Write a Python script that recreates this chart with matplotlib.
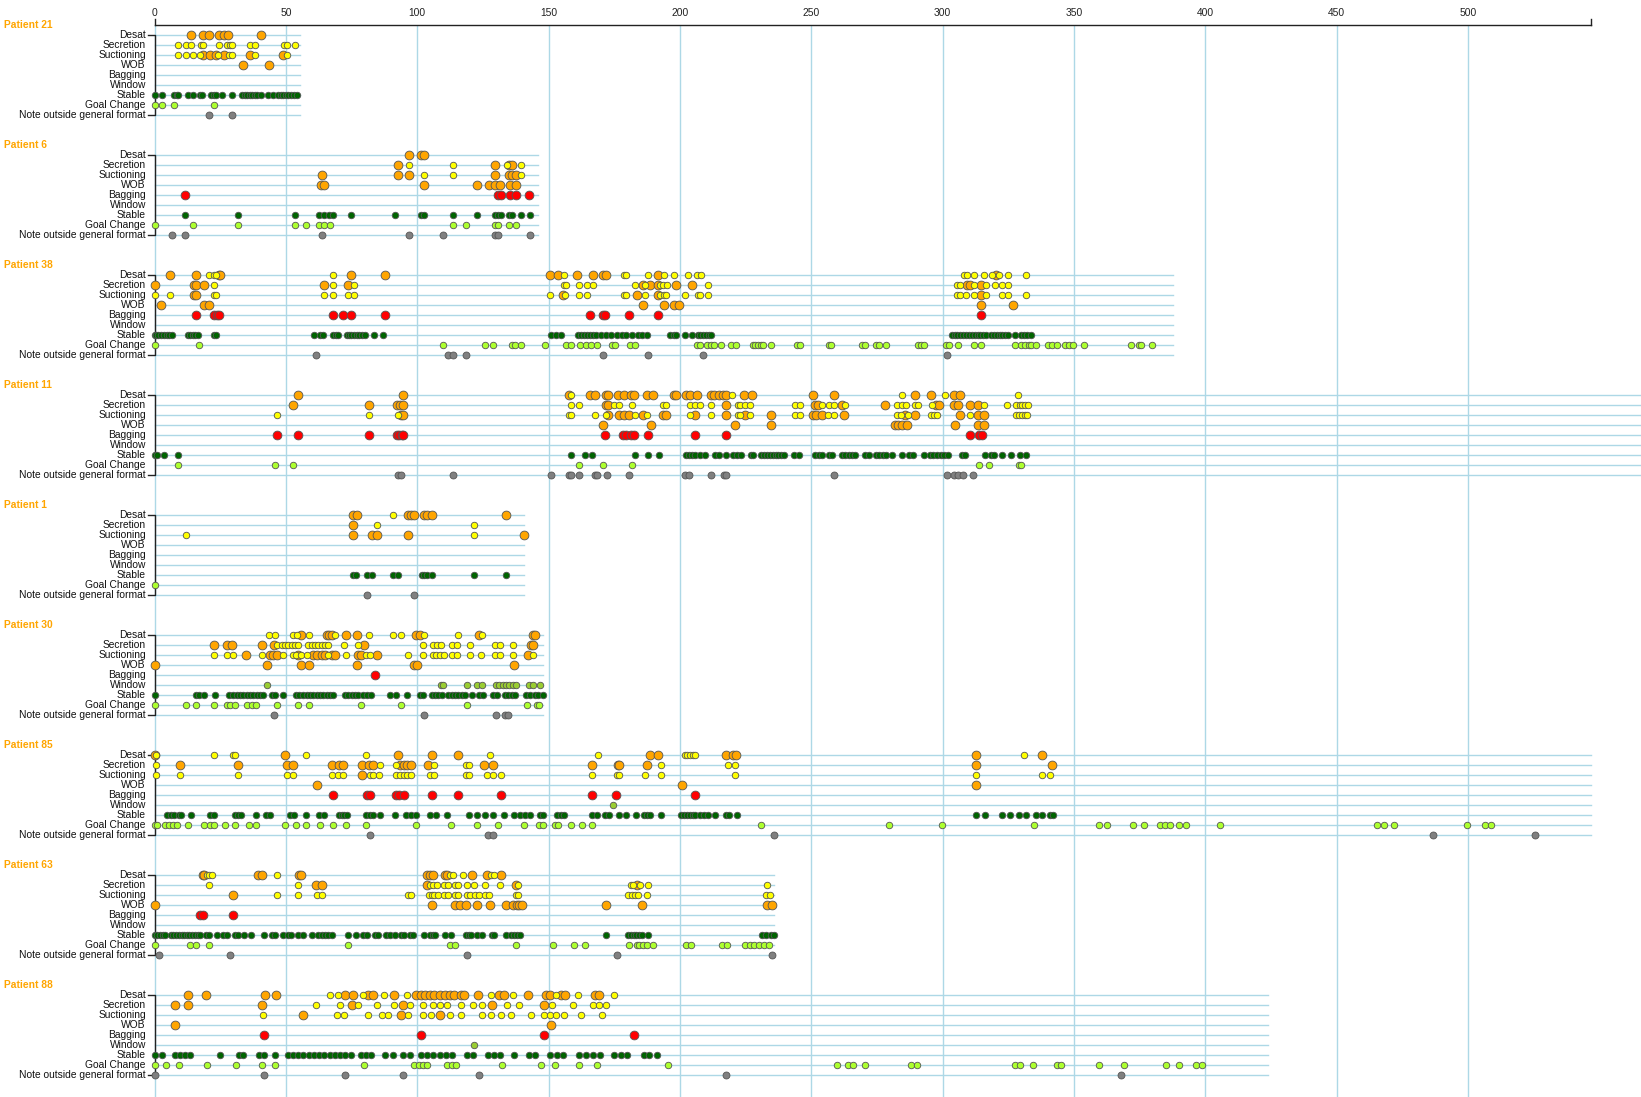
import matplotlib
matplotlib.use("Agg")
import matplotlib.pyplot as plt

plt.rcParams['font.family'] = ['Liberation Sans', 'DejaVu Sans']

# categories (rows of each patient block)
rows = ["Desat", "Secretion", "Suctioning", "WOB", "Bagging", "Window",
        "Stable", "Goal Change", "Note outside general format"]
patients = ["Patient 21", "Patient 6", "Patient 38", "Patient 11", "Patient 1",
            "Patient 30", "Patient 85", "Patient 63", "Patient 88"]
# length of each patient's record (time units)
record_end = [55.4, 145.8, 387.7, 600, 140.8, 148, 546.8, 236, 423.7]
axis_end = 546.8
ticks = [0, 50, 100, 150, 200, 250, 300, 350, 400, 450, 500]

# ---- Patient 21
p21 = {
    "Desat": [13.8, 18.6, 20.7, 24.5, 26.4, 27.8, 40.7],
    "Suctioning": [18.3, 21.1, 23.4, 26.5, 36.4, 49.1],
    "WOB": [33.7, 43.5],
    "Stable": [0, 3.0, 7.5, 8.5, 8.9, 12.7, 14.8, 17.3, 18.1, 21.6, 22.6, 23.6, 25.6, 29.6,
               33.4, 34.3, 35.2, 36.2, 37.2, 38.2, 39.2, 40.6, 43.1, 45.2, 47.2, 48.1, 49.0,
               50.0, 51.0, 52.0, 53.0, 54.4],
    "Goal Change": [0, 3.0, 7.5, 22.7],
    "Note outside general format": [20.7, 29.6],
}
p21_mild = {
    "Secretion": [8.9, 11.9, 13.8, 17.7, 18.6, 24.6, 27.6, 28.6, 29.6, 36.4, 38.4, 49.4, 50.3, 53.3],
    "Suctioning": [8.9, 11.9, 14.6, 17.3, 24.2, 28.4, 29.6, 38.4, 50.3],
}

# ---- Patient 6
p6 = {
    "Desat": [96.7, 101.6, 102.7],
    "Secretion": [92.8, 129.6, 134.9, 135.9],
    "Suctioning": [63.8, 92.8, 96.8, 129.6, 134.9, 135.9, 137.6],
    "WOB": [63.5, 64.6, 102.7, 122.7, 127.4, 129.5, 131.5, 135.3, 137.6],
    "Bagging": [11.6, 130.8, 131.8, 135.3, 137.6, 142.6],
    "Stable": [11.6, 31.7, 53.6, 62.8, 64.6, 66.5, 67.9, 74.7, 91.7, 101.6, 102.7, 113.8,
               122.7, 129.6, 130.7, 131.8, 134.9, 136.0, 139.7, 142.8],
    "Goal Change": [0, 14.7, 31.7, 53.6, 57.7, 62.6, 64.6, 66.7, 113.8, 118.6, 129.5, 130.8,
                    134.9, 137.6],
    "Note outside general format": [6.7, 11.6, 63.8, 96.8, 109.8, 129.5, 130.6, 142.8],
}
p6_mild = {
    "Secretion": [96.8, 113.8, 134.2, 139.7],
    "Suctioning": [102.7, 113.8, 139.7],
}

# ---- Patient 38
p38 = {
    "Desat": [5.8, 15.8, 24.4, 25.1, 74.8, 87.7, 150.5, 153.7, 160.7, 166.9, 170.8, 171.7,
              191.6, 320.5],
    "Secretion": [0, 14.9, 15.8, 18.7, 64.6, 73.6, 185.9, 188.6, 191.6, 198.7, 204.5,
                  309.3, 310.4, 314.6],
    "Suctioning": [14.9, 15.8, 155.6, 183.5, 191.6, 314.6],
    "WOB": [2.6, 18.7, 20.7, 185.9, 193.8, 197.8, 199.8, 314.7, 326.7],
    "Bagging": [15.8, 22.6, 23.7, 24.7, 67.8, 71.7, 74.8, 87.7, 165.8, 170.8, 171.6, 180.7,
                191.7, 314.7],
    "Stable": [0, 0.6, 1.5, 2.6, 3.7, 4.7, 5.6, 6.7, 12.6, 13.5, 14.6, 15.6, 16.5, 22.6, 23.6,
               60.7, 63.1, 64.1, 67.9, 69.0, 69.9, 73.1, 74.0, 74.9, 76.0, 77.0, 77.9, 79.0,
               80.1, 83.7, 86.9, 150.8, 152.8, 154.6, 161.4, 162.5, 163.6, 164.7, 165.8, 166.9,
               167.9, 169.8, 171.9, 173.9, 175.9, 178.0, 179.4, 181.8, 184.1, 185.5, 187.5,
               196.4, 197.7, 198.7, 201.8, 204.5, 206.8, 207.6, 208.7, 209.8, 210.9, 212.0,
               303.5, 304.6, 305.6, 306.7, 307.8, 308.9, 310.0, 311.1, 312.2, 313.3, 314.4,
               315.4, 316.5, 318.4, 319.5, 320.6, 321.7, 322.8, 323.9, 325.0, 327.5, 330.0,
               331.1, 332.1, 333.5],
    "Goal Change": [0, 16.9, 109.8, 125.7, 128.8, 135.9, 137.2, 139.7, 148.5, 156.5, 158.7,
                    162.0, 164.1, 166.0, 168.5, 174.2, 175.3, 181.0, 182.8, 206.5, 207.6,
                    210.4, 211.7, 213.1, 215.5, 219.6, 221.2, 227.8, 228.7, 229.8, 230.8,
                    231.8, 234.8, 244.6, 245.7, 256.9, 257.7, 269.5, 270.5, 274.5, 275.6,
                    278.6, 290.8, 291.9, 293.0, 301.4, 302.5, 305.8, 311.8, 314.8, 327.5,
                    329.7, 331.3, 332.7, 333.8, 335.7, 340.2, 341.6, 343.6, 346.6, 348.0,
                    349.7, 353.8, 371.7, 374.6, 375.7, 379.7],
    "Note outside general format": [61.6, 111.7, 113.7, 118.6, 170.8, 187.7, 208.7, 301.7],
}
p38_mild = {
    "Desat": [20.7, 22.6, 23.6, 67.8, 155.8, 178.8, 179.6, 187.7, 193.8, 197.8, 203.0, 206.5,
              208.0, 308.2, 309.3, 311.8, 315.9, 318.9, 321.6, 324.8, 331.6],
    "Secretion": [22.6, 67.8, 75.8, 155.8, 156.7, 161.7, 164.8, 166.9, 182.8, 186.6, 192.3,
                  193.6, 194.9, 210.8, 305.5, 306.6, 311.8, 316.7, 319.8, 322.7, 324.8],
    "Suctioning": [0, 5.8, 22.6, 23.4, 64.6, 67.8, 73.6, 75.8, 150.5, 156.2, 161.7, 164.8,
                   178.8, 179.6, 186.6, 192.3, 193.8, 194.6, 201.8, 206.8, 207.8, 210.8,
                   305.5, 306.6, 308.8, 311.8, 316.4, 322.7, 324.8, 331.6],
}

# ---- Patient 11
p11 = {
    "Desat": [54.8, 94.7, 157.6, 165.8, 167.6, 171.9, 172.6, 176.6, 178.7, 181.4, 182.4,
              187.5, 189.6, 197.7, 198.6, 202.5, 203.8, 206.6, 211.7, 212.9, 214.7, 216.3,
              217.7, 224.5, 227.6, 250.8, 258.6, 289.5, 295.6, 304.5, 306.5],
    "Secretion": [52.9, 81.7, 92.5, 93.5, 94.7, 171.9, 172.6, 217.7, 251.4, 252.5, 261.6,
                  277.9, 297.6, 298.7, 304.5, 305.8, 310.5, 313.6],
    "Suctioning": [93.7, 94.7, 172.6, 176.7, 178.7, 180.7, 185.9, 193.6, 194.6, 205.6, 217.7,
                   224.6, 234.8, 250.8, 251.7, 254.2, 262.6, 285.8, 289.5, 306.5, 313.3, 315.7],
    "WOB": [170.9, 188.9, 220.8, 234.8, 281.7, 282.9, 284.4, 286.5, 304.7, 313.6, 315.7],
    "Bagging": [46.8, 54.8, 81.7, 92.5, 93.2, 94.1, 94.7, 171.6, 178.4, 179.6, 181.4, 182.4,
                187.7, 205.6, 217.7, 310.5, 313.9, 314.9],
    "Stable": [0, 0.8, 3.6, 8.8, 158.7, 163.7, 166.7, 182.8, 187.8, 191.9, 202.5, 203.6, 204.7,
               205.8, 207.6, 209.7, 213.3, 214.7, 217.4, 220.1, 221.9, 223.3, 226.9, 228.0,
               231.0, 232.1, 233.2, 234.2, 235.3, 236.4, 237.5, 238.6, 239.7, 243.3, 245.3,
               251.4, 252.8, 254.1, 256.6, 257.9, 261.6, 263.0, 264.3, 265.7, 266.8, 270.4,
               271.8, 274.5, 275.9, 277.2, 278.6, 280.6, 284.7, 287.4, 288.8, 292.8, 295.2,
               296.5, 297.9, 299.3, 300.6, 302.0, 307.2, 308.5, 316.0, 318.3, 319.6, 322.8,
               325.9, 329.6, 331.9],
    "Goal Change": [8.8, 45.8, 52.7, 161.7, 170.9, 181.7, 314.0, 317.8, 329.1, 329.9],
    "Note outside general format": [92.6, 93.7, 113.8, 150.8, 157.6, 158.7, 161.7, 167.8,
                                    168.5, 172.2, 180.7, 201.8, 203.6, 211.7, 216.7, 217.7,
                                    258.6, 301.8, 304.5, 305.8, 307.6, 311.6],
}
p11_mild = {
    "Desat": [158.7, 219.7, 284.7, 300.8, 328.8],
    "Secretion": [158.7, 161.7, 174.9, 176.7, 181.7, 193.6, 194.6, 203.8, 205.6, 207.6, 211.7,
                  222.0, 223.0, 224.6, 226.7, 243.7, 245.7, 254.2, 256.6, 258.6, 262.7, 282.7,
                  284.7, 286.1, 289.5, 290.8, 295.9, 315.6, 324.5, 328.1, 329.3, 330.3, 331.5,
                  332.4],
    "Suctioning": [46.8, 81.7, 92.8, 157.6, 158.7, 167.8, 171.9, 182.8, 187.5, 203.8, 211.7,
                   222.0, 223.0, 226.7, 243.7, 245.7, 256.2, 258.6, 282.7, 284.0, 286.7, 295.6,
                   296.7, 297.9, 310.5, 328.1, 329.1, 330.1, 331.2, 332.3],
}

# ---- Patient 1
p1 = {
    "Desat": [75.7, 77.0, 96.6, 97.5, 98.8, 102.6, 103.9, 105.8, 133.8],
    "Secretion": [75.7],
    "Suctioning": [75.7, 82.7, 84.8, 96.6, 140.8],
    "Stable": [75.7, 76.7, 80.8, 82.7, 90.7, 92.8, 101.7, 102.7, 103.9, 105.8, 121.8, 133.8],
    "Goal Change": [0],
    "Note outside general format": [80.8, 98.8],
}
p1_mild = {
    "Desat": [90.7],
    "Secretion": [84.7, 121.8],
    "Suctioning": [11.9, 121.8],
}

# ---- Patient 30
p30 = {
    "Desat": [55.8, 65.6, 66.6, 67.5, 72.9, 77.0, 99.6, 101.1, 123.7, 144.0, 144.9],
    "Secretion": [22.8, 27.7, 29.4, 40.8, 45.6, 79.8, 143.2, 144.2],
    "Suctioning": [34.8, 44.0, 45.2, 46.5, 54.8, 60.5, 61.8, 63.7, 64.9, 67.5, 68.7, 77.6,
                   78.5, 84.8, 142.3],
    "WOB": [0, 42.7, 55.8, 58.9, 77.0, 98.9, 99.8, 136.9],
    "Bagging": [83.8],
    "Window": [42.7, 109.1, 110.0, 118.8, 122.6, 124.6, 129.9, 131.3, 132.6, 133.8, 135.1,
               136.4, 137.6, 142.7, 144.0, 146.8],
    "Stable": [0, 15.8, 17.1, 18.8, 23.0, 28.5, 29.8, 31.3, 32.6, 33.8, 35.1, 36.4, 37.6, 38.9,
               40.2, 41.4, 44.6, 45.9, 48.8, 53.9, 55.1, 56.7, 57.9, 59.2, 60.5, 61.8, 63.0,
               64.3, 65.6, 66.8, 67.8, 72.5, 73.8, 75.1, 76.4, 77.6, 79.3, 81.0, 82.3, 89.7,
               92.0, 96.0, 101.1, 102.1, 105.5, 106.8, 108.1, 109.3, 111.9, 113.1, 114.4,
               115.7, 116.9, 118.2, 120.8, 123.7, 125.2, 128.7, 130.3, 133.4, 134.7, 136.0,
               137.2, 141.4, 142.9, 144.9, 146.1, 148.0],
    "Goal Change": [0, 11.9, 15.8, 22.8, 27.5, 28.7, 30.6, 35.1, 37.0, 38.6, 46.8, 54.8, 58.8,
                    78.6, 93.8, 118.8, 141.7, 145.5, 146.5],
    "Note outside general format": [45.6, 102.7, 129.9, 133.4, 134.7],
}
p30_mild = {
    "Desat": [43.7, 45.9, 52.9, 54.1, 58.9, 68.7, 81.8, 90.7, 93.8, 102.6, 115.7, 124.6],
    "Secretion": [46.5, 48.4, 49.7, 50.9, 52.2, 53.5, 54.8, 58.6, 59.9, 61.1, 62.4, 63.7,
                  64.9, 66.2, 72.0, 77.6, 102.1, 105.9, 107.7, 109.1, 113.1, 115.0, 120.1,
                  129.6, 131.5, 136.4],
    "Suctioning": [22.8, 27.7, 29.8, 40.8, 48.8, 52.6, 53.9, 55.8, 57.9, 66.2, 72.9, 80.5,
                   82.0, 96.4, 102.1, 105.9, 107.2, 108.7, 110.2, 113.1, 115.0, 120.1, 124.3,
                   129.6, 131.5, 136.4, 144.0],
}

# ---- Patient 85
p85 = {
    "Desat": [0, 49.7, 92.8, 105.8, 115.7, 188.6, 191.7, 217.7, 220.1, 221.5, 312.8, 337.7],
    "Secretion": [9.8, 31.7, 50.4, 52.7, 67.6, 70.4, 71.7, 78.8, 81.6, 83.2, 93.4, 94.8, 96.2,
                  97.5, 104.3, 125.6, 128.8, 166.7, 176.4, 176.9, 187.5, 312.8, 341.5],
    "Suctioning": [78.8],
    "WOB": [61.7, 200.7, 312.8],
    "Bagging": [67.8, 80.9, 81.9, 91.8, 93.0, 94.8, 105.8, 115.7, 131.9, 166.7, 175.7, 205.6],
    "Window": [174.6],
    "Stable": [4.6, 6.2, 7.4, 9.2, 10.1, 13.8, 21.0, 22.8, 30.6, 31.8, 32.9, 38.7, 42.5, 43.8,
               51.7, 53.0, 57.7, 62.6, 64.6, 70.1, 71.2, 72.1, 73.1, 80.7, 81.9, 83.2, 85.7,
               91.7, 95.9, 97.5, 99.7, 104.7, 107.0, 111.5, 119.6, 122.7, 125.7, 128.8, 132.9,
               136.9, 139.0, 141.0, 143.1, 146.6, 147.8, 153.3, 154.6, 156.0, 166.7, 168.5,
               171.6, 172.9, 176.7, 179.6, 183.4, 186.4, 187.5, 188.6, 192.7, 200.4, 201.5,
               202.6, 203.7, 204.8, 205.8, 207.6, 209.3, 210.6, 213.3, 217.4, 218.8, 221.8,
               312.6, 316.0, 322.8, 325.5, 328.9, 331.9, 335.7, 337.7, 340.9, 342.1],
    "Goal Change": [0, 1.0, 4.0, 5.4, 6.9, 8.5, 12.8, 19.0, 21.0, 22.8, 26.8, 30.5, 35.8, 38.7,
                    49.7, 53.8, 57.7, 62.9, 67.8, 72.8, 80.7, 99.5, 112.7, 122.7, 130.8, 140.8,
                    146.5, 147.8, 152.6, 153.5, 158.7, 162.8, 166.7, 230.8, 279.7, 299.7,
                    334.7, 359.5, 362.7, 372.3, 376.6, 382.6, 384.6, 386.6, 389.8, 392.6,
                    405.7, 465.5, 467.9, 471.9, 499.8, 506.6, 508.6],
    "Note outside general format": [81.9, 126.8, 128.8, 235.8, 486.6, 525.6],
}
p85_mild = {
    "Desat": [0.6, 22.8, 29.7, 30.6, 57.7, 80.7, 127.8, 168.8, 201.8, 202.7, 203.8, 204.8,
              205.7, 330.9],
    "Secretion": [0.6, 85.7, 92.1, 106.4, 118.6, 119.7, 192.7, 218.5, 220.8],
    "Suctioning": [0.6, 9.8, 31.7, 50.6, 52.7, 67.6, 69.7, 71.7, 81.9, 83.2, 85.3, 91.8, 93.4,
                   95.1, 96.2, 97.5, 104.7, 106.4, 118.6, 119.7, 126.7, 128.8, 131.8, 166.7,
                   175.9, 176.9, 186.7, 192.7, 220.8, 312.8, 337.7, 340.7],
}

# ---- Patient 63
p63 = {
    "Desat": [18.3, 18.9, 39.3, 40.8, 55.1, 55.9, 103.9, 104.9, 105.9, 110.4, 111.5, 120.7,
              126.5, 131.8],
    "Secretion": [61.5, 63.6, 103.9, 137.6, 183.6],
    "Suctioning": [29.8],
    "WOB": [0, 105.8, 114.4, 116.3, 118.6, 122.7, 127.7, 133.7, 136.4, 137.9, 138.9, 139.8,
            171.8, 185.7, 233.0, 235.0],
    "Bagging": [17.3, 18.6, 29.8],
    "Stable": [0, 1.0, 2.0, 3.1, 4.1, 6.2, 7.2, 8.2, 9.2, 10.3, 11.3, 12.3, 13.3, 14.4, 15.4,
               16.4, 17.4, 19.6, 20.9, 23.9, 25.9, 27.7, 30.6, 31.9, 34.1, 36.6, 41.7, 44.6,
               45.9, 48.8, 51.0, 51.9, 54.6, 56.7, 59.8, 62.4, 63.6, 64.9, 66.2, 67.5, 73.8,
               76.7, 79.5, 80.8, 83.9, 85.2, 88.2, 89.5, 91.6, 93.8, 95.1, 97.3, 98.5, 102.6,
               104.9, 105.9, 106.8, 110.6, 112.8, 118.6, 119.6, 120.6, 122.7, 124.6, 128.4,
               129.4, 133.8, 135.6, 136.9, 138.1, 139.2, 171.8, 180.4, 181.4, 182.4, 183.4,
               184.4, 185.4, 187.7, 231.3, 232.9, 234.5, 236.0],
    "Goal Change": [0, 13.5, 15.8, 20.9, 73.8, 112.5, 114.4, 137.6, 151.8, 159.8, 163.7,
                    180.8, 183.6, 184.6, 186.1, 187.6, 189.9, 202.2, 204.1, 216.1, 218.1,
                    224.9, 226.5, 228.1, 230.1, 232.0, 234.0],
    "Note outside general format": [1.8, 28.7, 118.8, 176.0, 235.0],
}
p63_mild = {
    "Desat": [19.9, 20.9, 21.8, 46.8, 112.5, 113.8, 117.6, 128.1, 129.4],
    "Secretion": [20.9, 54.8, 104.9, 106.2, 107.7, 110.2, 111.9, 114.4, 115.7, 118.8, 121.8,
                  125.8, 131.5, 138.5, 181.3, 182.3, 184.9, 187.7, 233.0],
    "Suctioning": [46.8, 54.8, 61.7, 63.6, 96.6, 97.5, 104.5, 105.5, 106.5, 108.1, 110.2,
                   111.9, 114.4, 115.7, 118.8, 120.1, 122.0, 123.7, 125.8, 127.5, 137.6, 138.5,
                   180.4, 181.7, 182.9, 184.2, 187.6, 232.8, 234.4],
}

# ---- Patient 88
p88 = {
    "Desat": [12.9, 19.7, 42.1, 46.1, 72.7, 75.5, 81.4, 83.0, 91.0, 99.7, 101.3, 102.9, 104.9,
              106.5, 108.5, 110.5, 112.5, 114.1, 116.5, 117.7, 123.3, 131.2, 133.2, 142.0,
              149.2, 150.4, 154.8, 156.3, 167.5, 169.1],
    "Secretion": [7.7, 12.9, 41.0, 75.1, 94.6, 128.5, 148.2],
    "Suctioning": [56.7, 93.8, 108.5],
    "WOB": [7.7, 150.8],
    "Bagging": [41.6, 101.3, 148.2, 182.5],
    "Window": [121.7],
    "Stable": [0.2, 3.0, 7.7, 9.7, 11.7, 13.7, 24.9, 32.0, 33.6, 39.6, 41.6, 45.7, 50.8, 52.7,
               54.7, 56.7, 58.7, 60.7, 62.7, 64.7, 66.7, 68.7, 70.7, 72.7, 74.7, 78.6, 80.6,
               82.6, 87.8, 90.6, 94.6, 97.4, 101.3, 103.7, 106.1, 108.5, 110.9, 113.3, 118.9,
               121.3, 126.9, 129.2, 131.6, 136.8, 142.4, 144.8, 150.4, 153.2, 155.6, 161.5,
               164.3, 167.1, 169.5, 175.1, 177.5, 179.9, 186.3, 188.3, 191.1],
    "Goal Change": [0.2, 4.2, 9.5, 20.1, 30.9, 41.0, 45.7, 79.8, 98.6, 100.5, 102.2, 103.7,
                    111.3, 113.3, 114.9, 132.4, 147.2, 152.4, 161.5, 168.3, 195.4, 259.9,
                    263.9, 265.9, 270.3, 287.8, 290.2, 327.7, 329.6, 334.4, 343.6, 345.2,
                    359.5, 369.1, 385.0, 389.8, 396.6, 398.6],
    "Note outside general format": [0.2, 41.6, 72.7, 94.6, 123.7, 217.7, 367.9],
}
p88_mild = {
    "Desat": [66.7, 69.9, 79.4, 87.4, 96.2, 128.0, 136.4, 152.8, 161.1, 175.1],
    "Secretion": [61.5, 70.7, 77.5, 84.6, 91.0, 97.4, 102.2, 106.2, 108.5, 111.3, 116.5,
                  121.3, 124.5, 134.0, 138.8, 151.4, 159.3, 166.9, 169.1, 171.9],
    "Suctioning": [41.4, 69.5, 72.3, 81.4, 86.6, 89.0, 96.6, 102.2, 105.4, 112.5, 116.5,
                   124.5, 128.0, 132.0, 135.6, 143.2, 148.2, 150.4, 152.8, 156.0, 162.3, 170.3],
}

events = [p21, p6, p38, p11, p1, p30, p85, p63, p88]
events_mild = [p21_mild, p6_mild, p38_mild, p11_mild, p1_mild, p30_mild, p85_mild,
               p63_mild, p88_mild]

# colour / size per row
row_color = {"Desat": "orange", "Secretion": "orange", "Suctioning": "orange",
             "WOB": "orange", "Bagging": "red", "Window": "yellowgreen",
             "Stable": "darkgreen", "Goal Change": "greenyellow",
             "Note outside general format": "gray"}
row_size = {"Desat": 40, "Secretion": 40, "Suctioning": 40, "WOB": 40, "Bagging": 40,
            "Window": 22, "Stable": 22, "Goal Change": 22,
            "Note outside general format": 25}

W, H = 1641, 1097
x0_px, px_per_unit = 154.5, 2.627
y0_px, row_px = 34.5, 10.0
block = 12

fig = plt.figure(figsize=(W / 100, H / 100), dpi=100)
ax = fig.add_axes([0, 0, 1, 1])
ax.set_xlim(-x0_px / px_per_unit, (W - x0_px) / px_per_unit)
ax.set_ylim((H - y0_px) / row_px, -y0_px / row_px)
ax.axis("off")

line_col = "#add8e6"
ymax = (H - y0_px) / row_px

# vertical grid
ax.vlines(ticks, -1, ymax, color=line_col, lw=1.0, zorder=0)
# top axis
ax.plot([0, axis_end], [-1, -1], color="#222", lw=1.0, zorder=3)
ax.plot([axis_end, axis_end], [-1.6, -1], color="#222", lw=1.0, zorder=3)
ax.plot([0, 0], [-1.6, -1], color="#222", lw=1.0, zorder=3)
for t in ticks:
    ax.text(t, -2.2, str(t), ha="center", va="center", fontsize=7.4, color="#222")

for i, name in enumerate(patients):
    base = i * block
    ax.text(-57.3, base - 1, name, ha="left", va="center", fontsize=7.4,
            fontweight="bold", color="orange")
    for j, r in enumerate(rows):
        y = base + j
        ax.plot([0, record_end[i]], [y, y], color=line_col, lw=1.0, zorder=1)
        ax.text(-3.3, y, r, ha="right", va="center", fontsize=7.4, color="#111")
    # left axis for the block
    ax.plot([-2.3, 0, 0, -2.3], [base, base, base + 8, base + 8], color="#222",
            lw=1.0, zorder=3)
    for j, r in enumerate(rows):
        y = base + j
        major = events[i].get(r, [])
        mild = events_mild[i].get(r, [])
        if major:
            ax.scatter(major, [y] * len(major), s=row_size[r], c=row_color[r],
                       edgecolors="#555", linewidths=0.6, zorder=4)
        if mild:
            ax.scatter(mild, [y] * len(mild), s=22, c="yellow",
                       edgecolors="#555", linewidths=0.6, zorder=5)

fig.savefig("out.png", dpi=100)
